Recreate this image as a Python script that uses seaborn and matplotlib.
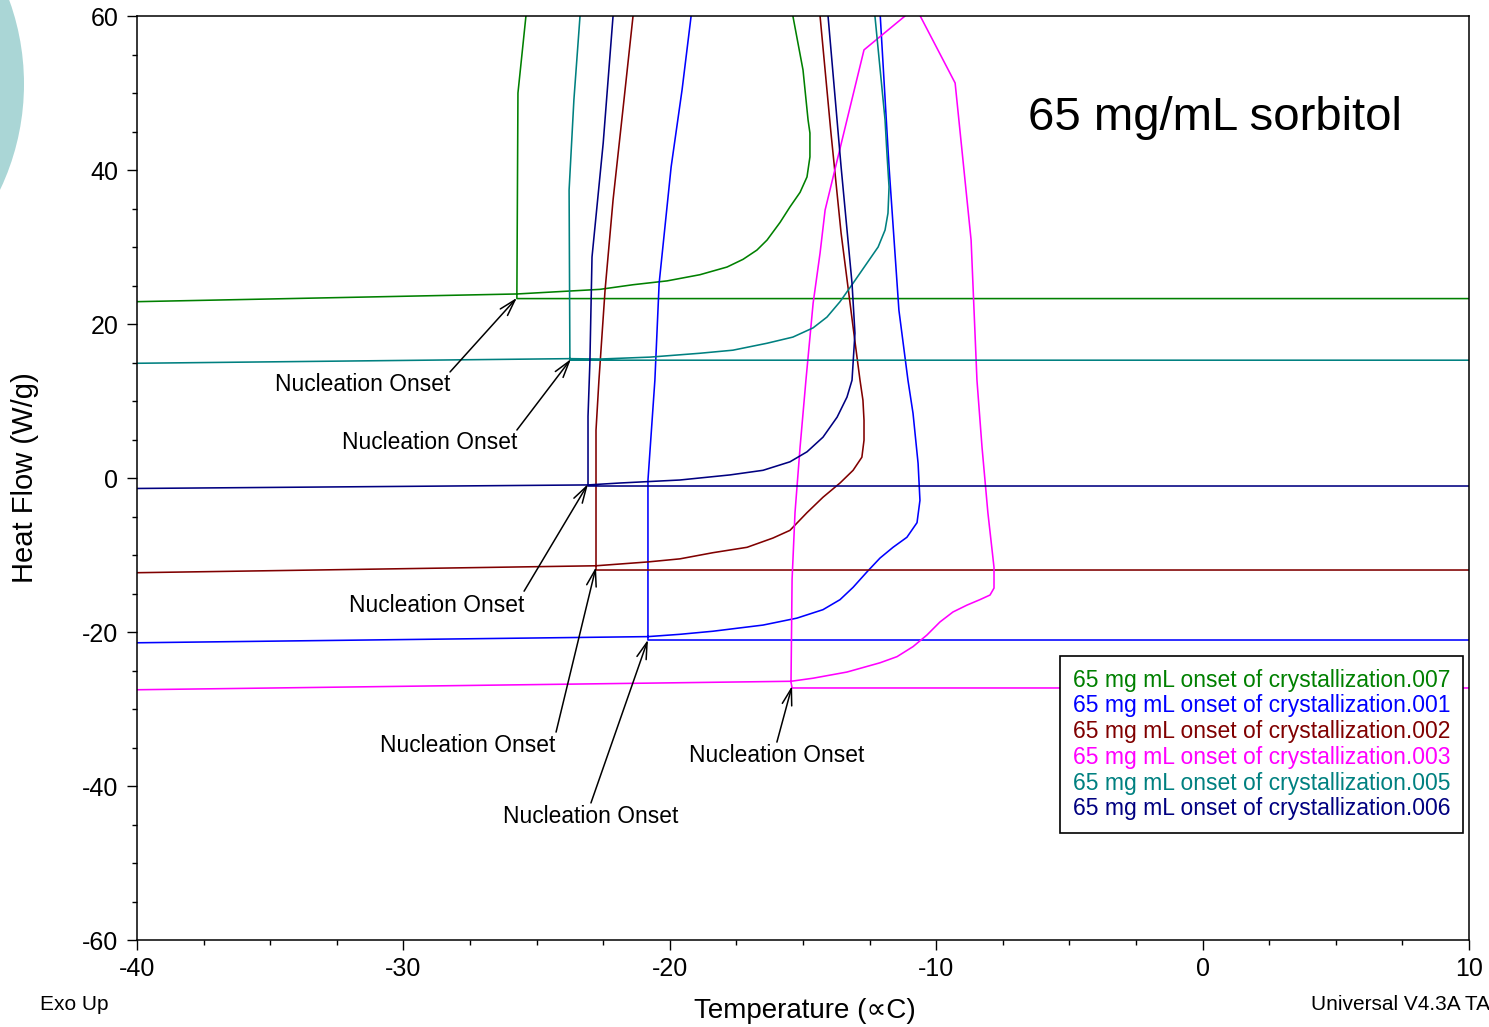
import numpy as np
import pandas as pd
import matplotlib
matplotlib.use("Agg")
import matplotlib.pyplot as plt
import seaborn as sns
from matplotlib.patches import Circle
from matplotlib.lines import Line2D
from matplotlib.ticker import MultipleLocator

# ---------------- data ----------------
runs = [
    "65 mg mL onset of crystallization.007",
    "65 mg mL onset of crystallization.001",
    "65 mg mL onset of crystallization.002",
    "65 mg mL onset of crystallization.003",
    "65 mg mL onset of crystallization.005",
    "65 mg mL onset of crystallization.006",
]
colors = ["#008000", "#0000FF", "#800000", "#FF00FF", "#008080", "#000080"]

# each path: baseline from 10 C down to nucleation, exotherm up, return branch,
# then the post-freeze baseline out to -40 C
temp_007 = [10, -25.74, -25.74, -25.72, -25.70, -25.40, -25.20,
            -15.50, -15.38, -15.00, -14.81, -14.74, -14.74, -14.85, -15.11, -15.49, -15.86, -16.35,
            -16.73, -17.25, -17.85, -18.87, -20.10, -21.38, -22.62, -25.74, -40]
flow_007 = [23.3, 23.3, 23.9, 37.0, 50.0, 60.0, 65.0,
            65.0, 60.0, 53.0, 46.5, 44.8, 41.7, 39.1, 37.1, 35.2, 33.2, 30.9,
            29.6, 28.4, 27.4, 26.4, 25.6, 25.1, 24.5, 23.9, 22.9]

temp_001 = [10, -20.82, -20.82, -20.82, -20.56, -20.40, -19.95, -19.54, -19.20, -19.10,
            -12.20, -12.10, -11.77, -11.40, -11.06, -10.87, -10.68, -10.61, -10.72, -11.10, -11.62,
            -12.11, -12.60, -13.12, -13.61, -14.25, -15.23, -16.50, -18.38, -19.62, -20.82, -40]
flow_001 = [-21.04, -21.04, -20.6, -0.3, 12.7, 25.3, 40.4, 50.4, 60.0, 65.0,
            65.0, 60.0, 40.4, 21.8, 12.7, 8.4, 1.9, -2.9, -5.8, -7.7, -9.0,
            -10.4, -12.2, -14.2, -15.8, -17.1, -18.2, -19.1, -19.9, -20.3, -20.6, -21.4]

temp_002 = [10, -22.77, -22.77, -22.77, -22.66, -22.43, -22.13, -21.72, -21.38, -21.25,
            -14.45, -14.36, -13.95, -13.57, -13.09, -12.86, -12.75, -12.71, -12.71, -12.79, -13.12,
            -13.61, -14.25, -14.85, -15.49, -16.13, -17.10, -18.38, -19.62, -20.82, -22.77, -40]
flow_002 = [-11.95, -11.95, -11.4, 6.2, 12.7, 24.4, 36.1, 49.1, 60.0, 65.0,
            65.0, 60.0, 44.8, 31.8, 18.8, 12.7, 10.1, 7.5, 4.9, 2.7, 1.0,
            -0.65, -2.5, -4.5, -6.8, -7.8, -9.0, -9.7, -10.5, -10.9, -11.4, -12.3]

temp_003 = [10, -15.41, -15.45, -15.41, -15.30, -15.11, -14.89, -14.62, -14.36, -14.17, -13.35,
            -12.71, -11.17, -10.90,
            -10.60, -9.29, -8.69, -8.47, -8.28, -8.06, -7.83, -7.83, -7.98, -8.36, -8.84, -9.37,
            -9.86, -10.35, -10.87, -11.47, -12.11, -13.35, -14.62, -15.45, -40]
flow_003 = [-27.27, -27.27, -26.5, -13.2, -4.5, 4.0, 12.7, 22.7, 29.2, 34.8, 46.5,
            55.6, 60.0, 61.0,
            60.0, 51.3, 30.9, 12.7, 4.0, -4.5, -11.6, -14.3, -15.2, -15.8, -16.5, -17.4,
            -18.7, -20.4, -21.9, -23.2, -24.0, -25.2, -26.0, -26.4, -27.5]

temp_005 = [10, -23.75, -23.75, -23.78, -23.60, -23.37, -23.25,
            -12.40, -12.30, -11.92, -11.85, -11.77, -11.81, -11.92, -12.18, -12.60, -13.12, -13.61,
            -14.10, -14.62, -15.38, -16.35, -17.63, -18.87, -20.74, -22.62, -23.75, -40]
flow_005 = [15.3, 15.3, 15.5, 37.4, 49.1, 60.0, 65.0,
            65.0, 60.0, 46.5, 42.2, 37.8, 34.4, 32.2, 30.0, 27.9, 25.3, 22.9,
            20.9, 19.5, 18.3, 17.5, 16.6, 16.2, 15.7, 15.45, 15.5, 14.9]

temp_006 = [10, -23.07, -23.07, -23.07, -23.00, -22.92, -22.50, -22.13, -22.00,
            -14.20, -14.06, -13.57, -13.16, -13.05, -13.16, -13.35, -13.72, -14.25, -14.85, -15.49,
            -16.50, -17.74, -19.62, -21.87, -23.07, -40]
flow_006 = [-1.04, -1.04, -0.9, 8.0, 15.0, 28.7, 43.5, 60.0, 65.0,
            65.0, 60.0, 40.4, 25.3, 18.8, 12.7, 10.5, 7.9, 5.3, 3.4, 2.1,
            1.0, 0.4, -0.26, -0.65, -0.9, -1.36]

onset_label = "Nucleation Onset"
# arrow heads at each nucleation point
onset_points_x = [-25.74, -23.71, -23.07, -22.77, -20.82, -15.41]
onset_points_y = [23.4, 15.45, -0.78, -11.56, -21.0, -27.0]

series = {
    runs[0]: (temp_007, flow_007),
    runs[1]: (temp_001, flow_001),
    runs[2]: (temp_002, flow_002),
    runs[3]: (temp_003, flow_003),
    runs[4]: (temp_005, flow_005),
    runs[5]: (temp_006, flow_006),
}

frames = []
for name, (t, f) in series.items():
    frames.append(pd.DataFrame({"Temperature": t, "Heat Flow": f, "run": name}))
df = pd.concat(frames, ignore_index=True)

# ---------------- style ----------------
sns.set_style("white")
plt.rcParams["font.family"] = ["Liberation Sans", "DejaVu Sans"]
plt.rcParams["axes.unicode_minus"] = False
plt.rcParams["text.color"] = "black"
plt.rcParams["xtick.color"] = "black"
plt.rcParams["ytick.color"] = "black"
plt.rcParams["xtick.labelcolor"] = "black"
plt.rcParams["ytick.labelcolor"] = "black"
plt.rcParams["axes.labelcolor"] = "black"

W, H = 1489, 1027
fig = plt.figure(figsize=(W / 100, H / 100), dpi=100)
fig.patch.set_facecolor("white")

# decorative slide circle at the left edge
fig.patches.append(Circle((-222, H - 84), 246, transform=None, facecolor="#aad6d6",
                          edgecolor="none", zorder=0))

ax = fig.add_axes([137 / W, 1 - 940 / H, 1332 / W, 924 / H])
ax.set_facecolor("white")

sns.lineplot(data=df, x="Temperature", y="Heat Flow", hue="run", hue_order=runs,
             palette=colors, sort=False, estimator=None, legend=False, lw=1.15, ax=ax)

ax.set_xlim(-40, 10)
ax.set_ylim(-60, 60)
ax.xaxis.set_major_locator(MultipleLocator(10))
ax.xaxis.set_minor_locator(MultipleLocator(2.5))
ax.yaxis.set_major_locator(MultipleLocator(20))
ax.yaxis.set_minor_locator(MultipleLocator(5))
ax.tick_params(axis="both", which="major", direction="out", length=7.5, width=1.0,
               labelsize=18, color="black", labelcolor="black", pad=5)
ax.tick_params(axis="both", which="minor", direction="out", length=3.6, width=1.0, color="black")
ax.tick_params(axis="y", which="major", pad=6)
ax.tick_params(left=True, bottom=True, which="both")
for s in ax.spines.values():
    s.set_visible(True)
    s.set_color("black")
    s.set_linewidth(1.1)
ax.set_xlabel("")
ax.set_ylabel("")

# "Nucleation Onset" annotations
text_x = [-31.52, -29.0, -28.74, -27.58, -22.96, -15.98]
text_y = [12.1, 4.55, -16.5, -34.7, -44.0, -36.1]
tail_x = [-28.25, -25.74, -25.47, -24.27, -22.96, -15.98]
tail_y = [13.77, 6.23, -14.7, -33.0, -42.2, -34.3]
for tx, ty, ax0, ay0, hx, hy in zip(text_x, text_y, tail_x, tail_y, onset_points_x, onset_points_y):
    ax.text(tx, ty, onset_label, fontsize=16.4, ha="center", va="center", color="black")
    ax.annotate("", xy=(hx, hy), xytext=(ax0, ay0),
                arrowprops=dict(arrowstyle="->,head_length=1.2,head_width=0.35", color="black",
                                lw=1.1, shrinkA=0, shrinkB=0, mutation_scale=10))

fig.text(1028 / W, 1 - 118 / H, "65 mg/mL sorbitol", fontsize=34, ha="left", va="center",
         color="black")

# legend with coloured text only
handles = [Line2D([], [], color=c) for c in colors]
leg = ax.legend(handles, runs, loc="upper right", bbox_to_anchor=(0.9955, 0.3074),
                borderaxespad=0, handlelength=0, handletextpad=0, fontsize=16.5,
                frameon=True, fancybox=False, edgecolor="black", framealpha=1,
                borderpad=0.55, labelspacing=0.12)
leg.get_frame().set_linewidth(1.2)
for txt, c in zip(leg.get_texts(), colors):
    txt.set_color(c)
for h in leg.legend_handles:
    h.set_visible(False)

# axis titles and footer
fig.text(25 / W, 1 - 478 / H, "Heat Flow (W/g)", rotation=90, fontsize=21, ha="center",
         va="center", color="black")
fig.text(805 / W, 1 - 1011 / H, "Temperature (\u221dC)", fontsize=20, ha="center", va="center",
         color="black")
fig.text(40 / W, 1 - 1005 / H, "Exo Up", fontsize=15, ha="left", va="center", color="black")
fig.text(1311 / W, 1 - 1005 / H, "Universal V4.3A TA", fontsize=15, ha="left", va="center",
         color="black")

fig.savefig("out.png", dpi=100)
